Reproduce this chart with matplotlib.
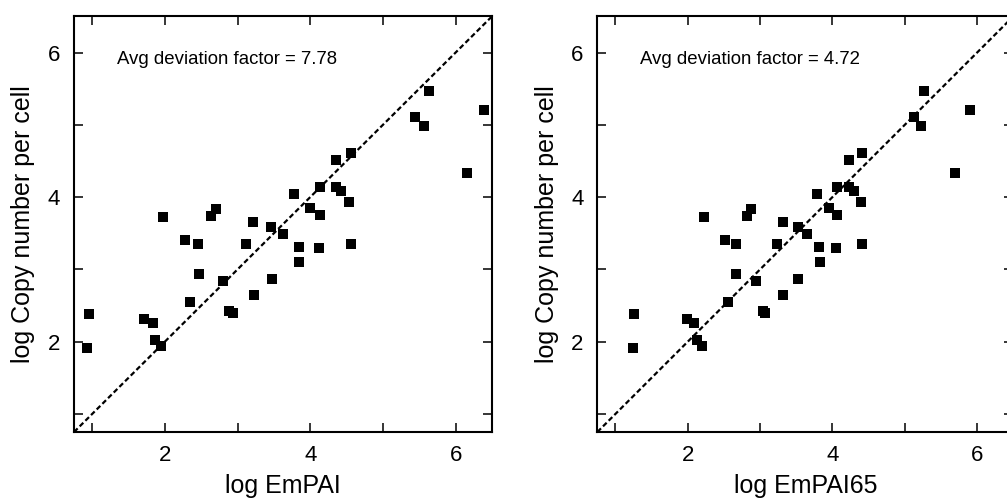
import matplotlib.pyplot as plt
import numpy as np

plt.rcParams['font.family'] = ['Liberation Sans', 'DejaVu Sans']

# log copy number per cell (same proteins in both panels)
copy_number = [5.47, 5.11, 4.99, 5.21, 4.61, 4.51, 4.34, 4.04, 4.14, 4.14,
               4.09, 3.93, 3.85, 3.75, 3.73, 3.83, 3.74, 3.65, 3.58, 3.49,
               3.40, 3.35, 3.35, 3.31, 3.29, 3.35, 3.10, 2.93, 2.84, 2.87,
               2.55, 2.65, 2.42, 2.40, 2.38, 2.31, 2.26, 2.02, 1.94, 1.91]

# log EmPAI
empai = [5.63, 5.44, 5.56, 6.39, 4.56, 4.35, 6.16, 3.78, 4.13, 4.35,
         4.43, 4.54, 4.00, 4.13, 1.97, 2.71, 2.64, 3.21, 3.46, 3.63,
         2.28, 2.45, 3.12, 3.84, 4.12, 4.56, 3.85, 2.47, 2.80, 3.48,
         2.35, 3.22, 2.88, 2.94, 0.95, 1.71, 1.83, 1.86, 1.94, 0.93]

# log EmPAI65
empai65 = [5.27, 5.13, 5.22, 5.90, 4.41, 4.23, 5.70, 3.78, 4.06, 4.23,
           4.30, 4.40, 3.95, 4.06, 2.23, 2.88, 2.82, 3.31, 3.52, 3.65,
           2.51, 2.66, 3.23, 3.81, 4.05, 4.41, 3.83, 2.67, 2.95, 3.52,
           2.56, 3.31, 3.04, 3.07, 1.25, 1.99, 2.09, 2.13, 2.19, 1.24]

panels = [(empai, 'log EmPAI', 'Avg deviation factor = 7.78'),
          (empai65, 'log EmPAI65', 'Avg deviation factor = 4.72')]

fig = plt.figure(figsize=(10.07, 4.98), dpi=100)
positions = [[0.0735, 0.1325, 0.415, 0.8345],
             [0.5932, 0.1325, 0.413, 0.8345]]

lims = (0.75, 6.5)
ticks = [1, 2, 3, 4, 5, 6]
labels = ['', '2', '', '4', '', '6']

for pos, (xs, xlabel, note) in zip(positions, panels):
    ax = fig.add_axes(pos)
    ax.plot(lims, lims, color='black', lw=1.6, linestyle=(0, (2.3, 1.3)))
    ax.plot(xs, copy_number, 's', color='black', ms=6.8, mew=0, clip_on=False)
    ax.set_xlim(lims)
    ax.set_ylim(lims)
    ax.set_xticks(ticks)
    ax.set_xticklabels(labels)
    ax.set_yticks(ticks)
    ax.set_yticklabels(labels)
    ax.tick_params(direction='in', length=6.5, width=1.1, top=True, right=True,
                   labelsize=16, pad=9)
    ax.tick_params(axis='y', pad=10)
    for s in ax.spines.values():
        s.set_linewidth(1.5)
    ax.set_xlabel(xlabel, fontsize=18, labelpad=6)
    ax.set_ylabel('log Copy number per cell', fontsize=18, labelpad=9)
    ax.text(1.335, 5.91, note, fontsize=13.4, ha='left', va='center')

fig.savefig('out.png', dpi=100)
